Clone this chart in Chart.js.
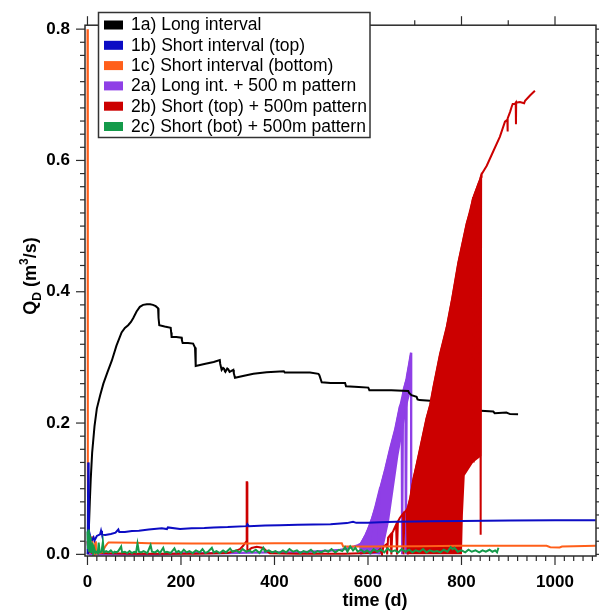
<!DOCTYPE html>
<html><head><meta charset="utf-8">
<script src="https://cdn.jsdelivr.net/npm/chart.js@4/dist/chart.umd.min.js"></script>
<style>html,body{margin:0;padding:0;background:#fff;}canvas{display:block;}</style>
</head><body>
<canvas id="c" width="599" height="612"></canvas>
<script>
// ---------- DATA ----------
const seriesLabels = ["1a) Long interval","1b) Short interval (top)","1c) Short interval (bottom)","2a) Long int. + 500 m pattern","2b) Short (top) + 500m pattern","2c) Short (bot) + 500m pattern"];
const xTickLabels = [0,200,400,600,800,1000];
const yTickLabels = [0.0,0.2,0.4,0.6,0.8];

// 1a black
const t1a = [0.5,1.5,3,5,7,10,15,20,27,34,43,52,62,73,80,87,93,98,105,112,119,127,134,140,146,151,152,153.6,165,178,179,180,190,201.5,202,203.6,215,226,228,230,231,232,250,270,283,284,287,290,292,294,295,299,301,304,312,313,315.5,335,355,383,420,422,450,476,494,496,501,520,551,553,580,600.6,603,650,686,688,693,704,706,710,733,770,807,810,832,868,871,896,904,921];
const q1a = [0.0,0.01,0.04,0.08,0.115,0.155,0.195,0.222,0.242,0.26,0.278,0.295,0.318,0.338,0.345,0.349,0.354,0.36,0.37,0.377,0.38,0.381,0.381,0.38,0.378,0.375,0.36,0.349,0.347,0.345,0.338,0.331,0.331,0.330,0.326,0.322,0.322,0.321,0.318,0.315,0.30,0.287,0.29,0.293,0.296,0.29,0.281,0.284,0.283,0.279,0.278,0.283,0.282,0.278,0.281,0.276,0.269,0.272,0.275,0.2775,0.279,0.277,0.277,0.277,0.275,0.273,0.262,0.261,0.261,0.256,0.255,0.254,0.25,0.25,0.249,0.246,0.2425,0.240,0.236,0.235,0.234,0.229,0.2226,0.221,0.219,0.2176,0.215,0.216,0.2136,0.2135];

// 1b blue
const t1b = [0.5,1.5,2.5,3.5,5,7,10,13,15,20,27,29,31,38,50,60,66,68,80,95,110,131,159,170,172,198,223,250,270,300,340,342,345,380,411,450,483,520,555,568,575,600,626,660,700,732,800,904,1000,1087];
const q1b = [0.0,0.14,0.13,0.015,0.03,0.024,0.022,0.026,0.021,0.028,0.0306,0.036,0.030,0.0296,0.031,0.033,0.038,0.034,0.034,0.0356,0.036,0.038,0.0396,0.0385,0.041,0.0385,0.0396,0.040,0.041,0.0415,0.043,0.046,0.043,0.044,0.0445,0.045,0.0456,0.046,0.0476,0.0495,0.048,0.048,0.049,0.0495,0.050,0.0506,0.051,0.0516,0.052,0.052];

// 1c orange
const t1c = [0,0.8,1.5,3,5,9.6,12,15,16.7,18,25,31,38,42,45,52,100,131,223,340,400,500,540,544,547,600,711,800,904,982,990,1010,1015,1040,1087];
const q1c = [0.80,0.12,0.03,0.02,0.025,0.026,0.008,0.001,0.02,0.001,0.002,0.003,0.012,0.016,0.018,0.018,0.0175,0.017,0.0165,0.0165,0.0168,0.0168,0.0168,0.0168,0.0118,0.0118,0.0125,0.013,0.013,0.013,0.011,0.0106,0.012,0.0125,0.013];

// 2a purple (line) and its oscillation band
const t2a = [0,2,5,50,100,150,213,260,300,350,400,450,500,519,540,551,560,570,578,583,585,588,595,600,604,605,607,615,622,623,625,626,637,647,658,668,672,673,675,676,680,681,683,688,692,692.5];
const q2a = [0.008,0.004,0.0,0.0,0.0,0.0,0.002,0.002,0.002,0.0025,0.003,0.003,0.005,0.0057,0.007,0.008,0.010,0.012,0.014,0.0157,0.0,0.02,0.03,0.038,0.0456,0.0,0.05,0.07,0.09,0.0,0.095,0.10,0.13,0.16,0.19,0.225,0.23,0.0,0.245,0.25,0.26,0.0,0.27,0.29,0.307,0.004];
const t2aHi = [583,595,604,615,626,637,647,658,668,676,683,688,692];
const q2aHi = [0.0157,0.03,0.0456,0.07,0.10,0.13,0.16,0.19,0.225,0.25,0.27,0.29,0.307];
const t2aLo = [583,630,645,655,665,675,685,692];
const q2aLo = [0.0,0.0,0.05,0.10,0.15,0.19,0.23,0.25];

// 2b red (line) and its oscillation band
const t2b = [0,2,10,100,230,300,315,326,333,338,340,340.5,341.5,342,344,351,362,376,383,390,450,550,600,620,626,630,633,640,641,643,648,650,652,654,660,662,664,668,675,676,678,683,685,687,690,697,704,711,725,733,740,754,768,780,793,811,818,819,820,825,826,827,834,835,836,840,841,842,843,854,868,882,893,898,898.5,899,904,907,909.5,914,916,916.5,917,925,934,936,946.5,957];
const q2b = [0.02,0.005,0.002,0.001,0.001,0.002,0.005,0.008,0.013,0.018,0.02,0.11,0.11,0.006,0.0057,0.0097,0.0117,0.0097,0.005,0.0017,0.001,0.001,0.002,0.004,0.008,0.0,0.012,0.0157,0.0,0.0256,0.03,0.0,0.033,0.0356,0.045,0.0,0.05,0.0555,0.062,0.0,0.064,0.068,0.0,0.075,0.085,0.115,0.137,0.16,0.207,0.228,0.255,0.305,0.345,0.39,0.444,0.504,0.52,0.2,0.525,0.544,0.14,0.546,0.56,0.3,0.562,0.572,0.03,0.575,0.579,0.592,0.614,0.636,0.659,0.662,0.644,0.664,0.674,0.681,0.686,0.686,0.688,0.655,0.688,0.689,0.687,0.691,0.699,0.706];
const t2bHi = [683,690,697,704,711,725,733,740,754,768,780,793,811,825,840,843];
const q2bHi = [0.068,0.085,0.115,0.137,0.16,0.207,0.228,0.255,0.305,0.345,0.39,0.444,0.504,0.544,0.572,0.579];
const t2bLo = [683,801,803,807,825,843];
const q2bLo = [0.0,0.0,0.06,0.12,0.14,0.15];

// 2c green
const t2c = [0,1,2,3,4,5,6,7,8,9,10,12,14,17,20,22,24,26,30,33,35,40,45,50,55,58,62,66,72,74,80,85,90,95,100,104,107,110,115,120,128,135,138,145,150,155,162,165,170,178,186,190,195,200,206,212,218,225,232,240,246,252,258,266,270,276,283,290,296,305,310,318,325,332,340,346,352,360,368,376,380,388,395,402,410,418,425,432,440,448,455,462,470,478,485,492,500,508,515,522,530,538,545,551,556,562,568,573,578,585,592,598,605,612,620,628,635,642,650,658,665,672,680,688,695,702,710,718,725,732,740,748,755,762,770,777,781,785,792,800,808,815,822,830,838,845,852,860,866,872,876,879];
const q2c = [0.035,0.008,0.038,0.004,0.030,0.010,0.026,0.002,0.015,0.003,0.018,0.002,0.010,0.002,0.004,0.002,0.018,0.003,0.004,0.019,0.003,0.005,0.003,0.006,0.002,0.004,0.003,0.005,0.012,0.003,0.004,0.002,0.005,0.002,0.004,0.003,0.0165,0.004,0.003,0.005,0.002,0.014,0.004,0.003,0.006,0.002,0.010,0.003,0.004,0.002,0.009,0.003,0.005,0.002,0.007,0.003,0.005,0.002,0.006,0.003,0.008,0.002,0.004,0.010,0.003,0.005,0.002,0.006,0.003,0.009,0.004,0.006,0.003,0.008,0.004,0.006,0.003,0.007,0.002,0.010,0.004,0.006,0.003,0.005,0.002,0.006,0.003,0.008,0.004,0.006,0.002,0.005,0.003,0.007,0.002,0.005,0.003,0.006,0.004,0.008,0.003,0.007,0.005,0.011,0.004,0.012,0.006,0.010,0.004,0.007,0.003,0.006,0.002,0.008,0.004,0.007,0.003,0.009,0.004,0.006,0.003,0.008,0.004,0.007,0.003,0.006,0.004,0.008,0.003,0.006,0.004,0.005,0.003,0.007,0.004,0.011,0.008,0.010,0.004,0.006,0.003,0.007,0.004,0.006,0.003,0.006,0.004,0.007,0.004,0.006,0.003,0.010];

// ---------- STYLE ----------
const COLORS = ['#000000','#0c0cc4','#ff5f1a','#8f3fe6','#cc0000','#149a4a'];
const FONT = '"Liberation Sans", Arial, Helvetica, sans-serif';
const pts = (t,q) => t.map((x,i)=>({x:x, y:q[i]}));

function lineDs(label, t, q, color, order, width){
  return {label, data: pts(t,q), borderColor: color, backgroundColor: color, borderWidth: width||2,
          pointRadius: 0, tension: 0, fill: false, order};
}
const datasets = [
  lineDs(seriesLabels[0], t1a, q1a, COLORS[0], 6),
  lineDs(seriesLabels[1], t1b, q1b, COLORS[1], 2),
  lineDs(seriesLabels[2], t1c, q1c, COLORS[2], 3),
  lineDs(seriesLabels[3], t2a, q2a, COLORS[3], 7, 2.2),
  lineDs(seriesLabels[4], t2b, q2b, COLORS[4], 4),
  lineDs(seriesLabels[5], t2c, q2c, COLORS[5], 1),
  {label:'2a band hi', data: pts(t2aHi,q2aHi), borderColor: COLORS[3], borderWidth: 1.5, pointRadius:0, order: 8,
   fill: {target: 7, above: COLORS[3], below: COLORS[3]}},
  {label:'2a band lo', data: pts(t2aLo,q2aLo), borderColor: 'rgba(0,0,0,0)', borderWidth: 0, pointRadius:0, order: 8, fill:false},
  {label:'2b band hi', data: pts(t2bHi,q2bHi), borderColor: COLORS[4], borderWidth: 1.5, pointRadius:0, order: 5,
   fill: {target: 9, above: COLORS[4], below: COLORS[4]}},
  {label:'2b band lo', data: pts(t2bLo,q2bLo), borderColor: 'rgba(0,0,0,0)', borderWidth: 0, pointRadius:0, order: 5, fill:false}
];

const decor = {
  id: 'decor',
  afterDatasetsDraw(chart){
    const ctx = chart.ctx, ca = chart.chartArea, xs = chart.scales.x, ys = chart.scales.y;
    ctx.save();
    ctx.strokeStyle = '#2b2b2b';
    ctx.lineWidth = 1.2;
    const seg = (x1,y1,x2,y2)=>{ctx.beginPath();ctx.moveTo(x1,y1);ctx.lineTo(x2,y2);ctx.stroke();};
    for (let v = 0; v <= 1080; v += 20){
      const px = xs.getPixelForValue(v);
      seg(px, ca.bottom, px, ca.bottom + (v % 200 === 0 ? 9 : 5));
    }
    for (let v = 0; v <= 1000; v += 100){
      const px = xs.getPixelForValue(v);
      seg(px, ca.top, px, ca.top - (v % 200 === 0 ? 9 : 5));
    }
    for (let k = 0; k <= 40; k++){
      const v = k * 0.02;
      const py = ys.getPixelForValue(v);
      seg(ca.left, py, ca.left - (k % 10 === 0 ? 9 : 5), py);
      seg(ca.right, py, ca.right + 4, py);
    }
    ctx.lineWidth = 1.5;
    ctx.strokeRect(ca.left, ca.top, ca.right - ca.left, ca.bottom - ca.top);
    ctx.restore();
  },
  afterDraw(chart){
    const ctx = chart.ctx;
    ctx.save();
    const L = {x: 98.5, y: 12.5, w: 271.5, h: 125};
    ctx.fillStyle = '#fff';
    ctx.fillRect(L.x, L.y, L.w, L.h);
    ctx.strokeStyle = '#333'; ctx.lineWidth = 1.5;
    ctx.strokeRect(L.x, L.y, L.w, L.h);
    ctx.font = '17.5px ' + FONT;
    ctx.textBaseline = 'middle';
    for (let i = 0; i < 6; i++){
      const ds = chart.data.datasets[i];
      const cy = 25 + i * 20.3;
      ctx.fillStyle = ds.borderColor;
      ctx.fillRect(104, cy - 4.5, 19, 9);
      ctx.fillStyle = '#000';
      ctx.fillText(ds.label, 131, cy + 0.5);
    }
    ctx.font = 'bold 18px ' + FONT;
    ctx.textAlign = 'center';
    ctx.textBaseline = 'alphabetic';
    ctx.fillText('time (d)', 375, 606);
    ctx.translate(24, 276);
    ctx.rotate(-Math.PI/2);
    const parts = [
      {t:'Q', f:'bold 18px ', dy:0},
      {t:'D', f:'bold 12px ', dy:5},
      {t:' (m', f:'bold 18px ', dy:0},
      {t:'3', f:'bold 12px ', dy:-8},
      {t:'/s)', f:'bold 18px ', dy:0}
    ];
    let w = 0;
    parts.forEach(p=>{ctx.font = p.f + FONT; p.w = ctx.measureText(p.t).width; w += p.w;});
    let x = -w/2;
    ctx.textAlign = 'left';
    parts.forEach(p=>{ctx.font = p.f + FONT; ctx.fillText(p.t, x, 12 + p.dy); x += p.w;});
    ctx.restore();
  }
};

new Chart(document.getElementById('c'), {
  type: 'line',
  data: { datasets },
  options: {
    responsive: false,
    animation: false,
    devicePixelRatio: 1,
    layout: { padding: { top: 14, right: 3, left: 0, bottom: 0 } },
    plugins: { legend: { display: false }, tooltip: { enabled: false } },
    elements: { line: { borderJoinStyle: 'miter' } },
    scales: {
      x: {
        type: 'linear', min: -5.3, max: 1087.7,
        afterBuildTicks: s => { s.ticks = xTickLabels.map(v => ({value: v})); },
        afterFit: s => { s.height = 56; },
        grid: { display: false, drawTicks: false },
        border: { display: false },
        ticks: { autoSkip: false, maxRotation: 0, padding: 16, color: '#000',
                 font: { family: FONT, size: 17, weight: 'bold' }, callback: v => String(v) }
      },
      y: {
        type: 'linear', min: -0.0025, max: 0.806,
        afterBuildTicks: s => { s.ticks = yTickLabels.map(v => ({value: v})); },
        afterFit: s => { s.width = 85; },
        grid: { display: false, drawTicks: false },
        border: { display: false },
        ticks: { autoSkip: false, padding: 15, color: '#000',
                 font: { family: FONT, size: 17, weight: 'bold' }, callback: v => Number(v).toFixed(1) }
      }
    }
  },
  plugins: [decor]
});
</script>
</body></html>
